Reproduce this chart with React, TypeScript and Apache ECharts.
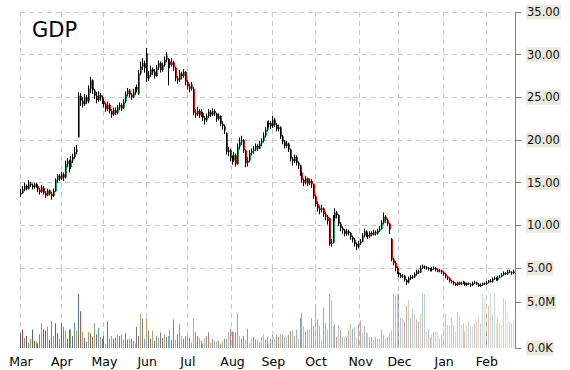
import React, { useEffect, useRef } from "react";
import * as echarts from "echarts";

// Daily candles per month: [open, close, low, high]
const months = ["Mar", "Apr", "May", "Jun", "Jul", "Aug", "Sep", "Oct", "Nov", "Dec", "Jan", "Feb"];

const candMar = [
  [13.6,13.8,13.3,14.3],[13.8,14.2,13.7,14.6],[14.2,14.6,14.0,15.0],[14.6,14.3,14.1,14.8],[14.3,14.9,14.2,15.3],
  [14.9,14.7,14.5,15.1],[14.7,14.5,14.2,14.9],[14.5,14.8,14.3,15.0],[14.8,14.6,14.4,15.0],[14.6,14.2,13.9,14.8],
  [14.2,13.9,13.6,14.4],[13.9,14.4,13.8,14.7],[14.4,13.8,13.6,14.6],[13.8,13.5,13.2,14.0],[13.5,14.1,13.4,14.3],
  [14.1,13.7,13.5,14.2],[13.7,13.4,13.0,13.9],[13.4,14.0,13.3,14.3],[14.0,15.3,13.9,15.5],[15.3,15.8,15.0,16.0],
  [15.8,15.5,15.2,16.0],
];
const candApr = [
  [15.5,16.0,15.3,16.3],[16.0,15.6,15.2,16.2],[15.6,17.2,15.5,17.6],[17.2,17.5,16.8,17.9],[17.5,16.8,16.2,17.7],
  [16.8,17.6,16.6,18.1],[17.6,18.0,17.3,18.4],[18.0,18.6,17.8,19.2],[18.6,18.9,18.3,19.4],[20.3,25.2,20.3,25.6],
  [25.2,24.6,24.0,25.5],[24.6,24.2,23.8,25.0],[24.2,25.0,24.0,25.4],[25.0,24.5,24.2,25.3],[24.5,26.0,24.3,26.4],
  [26.0,27.0,25.5,27.4],[27.0,25.8,25.4,27.1],[25.8,25.2,24.8,26.0],[25.2,24.7,24.3,25.6],[24.7,25.3,24.5,25.7],
  [25.3,25.0,24.6,25.5],[25.0,24.6,24.2,25.2],
];
const candMay = [
  [24.6,24.2,23.8,24.8],[24.2,23.6,23.3,24.4],[23.6,24.1,23.4,24.5],[24.1,23.4,23.1,24.3],[23.4,23.0,22.6,23.6],
  [23.0,23.5,22.8,23.8],[23.5,23.2,22.9,23.8],[23.2,23.8,23.0,24.1],[23.8,24.1,23.5,24.4],[24.1,23.7,23.4,24.3],
  [23.7,24.5,23.6,24.8],[24.5,25.4,24.3,25.7],[25.4,25.8,25.1,26.1],[25.8,25.3,25.0,26.0],[25.3,25.0,24.7,25.5],
  [25.0,25.6,24.9,26.0],[25.6,25.9,25.3,26.2],[25.9,26.2,25.6,26.5],[25.4,27.8,25.3,28.2],[27.8,28.6,27.6,29.2],
  [28.6,29.0,28.2,29.6],[29.0,28.4,27.9,29.3],
];
const candJun = [
  [30.2,27.2,26.8,30.8],[27.2,27.6,26.9,28.1],[27.6,28.3,27.4,28.7],[28.3,28.0,27.6,28.5],[28.0,27.5,27.2,28.3],
  [27.5,28.5,27.4,28.8],[28.5,29.0,28.2,29.3],[29.0,28.2,27.9,29.2],[28.2,28.8,28.0,29.1],[28.8,29.4,28.6,29.8],
  [29.4,29.9,29.1,30.3],[28.8,29.2,26.4,29.6],[29.2,28.8,28.4,29.5],[28.8,29.1,28.6,29.6],[29.1,28.5,28.1,29.3],
  [28.5,27.2,26.9,28.6],[27.2,27.0,26.6,27.5],[27.0,27.8,26.8,28.2],[27.8,27.5,27.1,28.0],[27.5,28.0,27.3,28.3],
  [28.0,26.8,26.4,28.1],
];
const candJul = [
  [26.8,26.3,25.9,27.0],[26.3,26.0,25.6,26.6],[26.0,26.5,25.8,26.8],[26.0,23.2,22.9,26.2],[23.2,23.0,22.6,23.6],
  [23.0,23.4,22.8,23.9],[23.4,22.9,22.6,23.6],[22.9,23.2,22.7,23.6],[23.2,22.6,22.2,23.3],[22.6,22.3,21.8,22.8],
  [22.3,22.8,22.1,23.1],[22.8,23.3,22.6,23.6],[23.3,23.0,22.7,23.5],[23.0,23.4,22.8,23.7],[23.4,23.1,22.8,23.6],
  [23.1,22.5,22.1,23.2],[22.5,22.8,22.3,23.1],[22.8,21.9,21.6,22.9],[21.9,21.6,21.2,22.2],[21.6,21.1,20.7,21.8],
  [20.8,18.6,18.3,20.9],[18.6,18.8,18.1,19.2],[18.8,17.9,17.5,19.0],
];
const candAug = [
  [17.9,17.6,17.1,18.2],[17.6,18.2,17.4,18.6],[18.2,17.2,16.9,18.4],[17.2,19.2,17.1,19.6],[19.2,19.8,18.9,20.3],
  [19.8,20.0,19.4,20.5],[20.0,18.8,18.5,20.1],[18.8,17.3,16.8,18.9],[17.3,17.6,16.9,18.0],[17.6,18.5,17.4,18.8],
  [18.5,18.7,18.2,19.0],[18.7,18.9,18.4,19.3],[18.9,19.3,18.7,19.6],[19.3,19.0,18.7,19.5],[19.0,19.6,18.9,19.9],
  [19.6,19.9,19.3,20.2],[19.9,20.5,19.7,20.9],[20.5,21.2,20.3,21.5],[21.2,21.8,21.0,22.2],[21.8,22.0,21.5,22.3],
  [22.0,21.6,21.3,22.2],
];
const candSep = [
  [21.6,22.4,21.4,22.8],[22.4,21.8,21.5,22.6],[21.8,21.3,21.0,22.0],[21.3,21.5,21.0,21.8],[21.5,20.4,20.1,21.6],
  [20.4,19.8,19.5,20.6],[19.8,19.3,19.0,20.0],[19.3,19.6,19.1,19.9],[19.6,18.9,18.6,19.7],[18.9,17.8,17.5,19.0],
  [17.8,17.5,17.0,18.0],[17.5,18.0,17.3,18.3],[18.0,17.3,17.0,18.2],[17.3,17.0,16.6,17.5],[17.0,16.2,15.8,17.1],
  [16.2,15.3,15.0,16.4],[15.3,15.0,14.6,15.5],[15.0,15.5,14.8,15.8],[15.5,14.9,14.6,15.6],[14.9,15.2,14.7,15.5],
  [15.2,14.8,14.4,15.4],[14.8,13.4,13.1,14.9],
];
const candOct = [
  [13.4,12.5,12.2,13.6],[12.5,12.0,11.6,12.8],[12.0,11.8,11.3,12.3],[11.8,12.0,11.5,12.4],[12.0,11.3,11.0,12.1],
  [11.3,11.0,10.6,11.6],[11.0,10.5,10.1,11.2],[10.8,7.8,7.6,10.9],[7.8,8.0,7.5,8.4],[8.0,10.8,7.9,11.2],
  [10.8,11.5,10.5,12.0],[11.5,11.2,10.8,11.7],[11.2,10.2,9.9,11.3],[10.2,9.7,9.3,10.4],[9.7,9.4,9.0,9.9],
  [9.4,9.0,8.7,9.6],[9.0,9.3,8.8,9.6],[9.3,9.1,8.8,9.5],[9.1,8.6,8.3,9.2],[8.6,8.3,8.0,8.8],
  [8.3,7.8,7.5,8.5],[7.8,7.5,7.1,8.0],[7.5,7.9,7.3,8.2],
];
const candNov = [
  [7.9,8.1,7.7,8.4],[8.1,8.8,8.0,9.1],[8.8,9.3,8.6,9.6],[9.3,8.9,8.6,9.4],[8.9,8.7,8.4,9.1],
  [8.7,9.1,8.5,9.3],[9.1,8.9,8.7,9.3],[8.9,9.2,8.8,9.5],[9.2,9.0,8.8,9.4],[9.0,9.4,8.9,9.6],
  [9.4,9.6,9.2,9.9],[9.6,10.3,9.5,10.6],[10.3,11.0,10.1,11.5],[11.0,10.6,10.3,11.2],[10.6,10.2,9.9,10.8],
  [10.2,9.5,9.0,10.3],[8.4,6.0,5.8,8.5],[6.0,5.6,5.3,6.2],[5.6,5.0,4.6,5.8],[5.0,4.5,4.3,5.2],
];
const candDec = [
  [4.5,4.2,3.9,4.6],[4.2,4.0,3.8,4.4],[4.0,4.1,3.8,4.3],[4.1,3.6,3.4,4.2],[3.6,3.3,3.0,3.7],
  [3.3,3.8,3.2,4.0],[3.8,4.0,3.6,4.2],[4.0,3.9,3.7,4.2],[3.9,4.3,3.8,4.5],[4.3,4.6,4.1,4.8],
  [4.6,4.5,4.3,4.8],[4.5,5.0,4.4,5.3],[5.0,5.2,4.9,5.4],[5.2,5.1,4.9,5.3],[5.1,5.0,4.8,5.2],
  [5.0,4.9,4.7,5.1],[4.9,4.7,4.6,5.0],[4.7,4.9,4.6,5.1],[4.9,5.0,4.8,5.2],[5.0,4.8,4.6,5.1],
  [4.8,4.6,4.5,4.9],[4.6,4.7,4.5,4.9],[4.7,4.5,4.3,4.8],
];
const candJan = [
  [4.5,4.3,4.1,4.6],[4.3,4.0,3.8,4.4],[4.0,3.8,3.6,4.1],[3.8,3.5,3.3,3.9],[3.5,3.4,3.2,3.6],
  [3.4,3.2,3.0,3.5],[3.2,3.0,2.9,3.3],[3.0,3.3,2.9,3.4],[3.3,3.1,3.0,3.4],[3.1,3.2,3.0,3.4],
  [3.2,3.3,3.1,3.5],[3.3,3.0,2.9,3.4],[3.0,3.2,2.9,3.3],[3.2,3.1,3.0,3.3],[3.1,3.0,2.8,3.2],
  [3.0,3.2,2.9,3.4],[3.2,3.3,3.1,3.5],[3.3,3.1,3.0,3.4],[3.1,2.9,2.8,3.2],[2.9,3.0,2.8,3.2],
  [3.0,3.2,2.9,3.3],[3.2,3.1,3.0,3.3],
];
const candFeb = [
  [3.1,3.3,3.0,3.5],[3.3,3.5,3.2,3.6],[3.5,3.4,3.3,3.7],[3.4,3.7,3.3,3.9],[3.7,3.8,3.6,4.0],
  [3.8,3.6,3.5,3.9],[3.6,3.9,3.5,4.1],[3.9,4.0,3.8,4.2],[4.0,4.2,3.9,4.4],[4.2,4.4,4.1,4.6],
  [4.4,4.3,4.2,4.5],[4.3,4.6,4.2,4.8],[4.6,4.5,4.4,4.8],[4.5,4.4,4.2,4.6],[4.4,4.6,4.3,4.8],
];

// Daily volume per month, in millions
const volMar = [1.6,2.0,1.1,1.3,0.6,1.0,2.0,0.8,0.7,0.5,1.5,2.7,2.0,1.9,2.3,0.9,2.9,1.3,2.7,1.6,1.0];
const volApr = [2.7,2.3,1.9,1.0,2.0,2.0,1.3,2.7,1.9,5.9,4.0,1.8,1.1,0.7,1.7,1.6,1.2,2.7,1.5,2.2,1.2,1.0];
const volMay = [1.3,0.4,2.9,1.0,1.3,1.0,1.1,1.4,1.3,1.4,0.9,1.6,0.9,1.0,1.0,0.8,0.5,2.3,1.3,3.7,3.2,1.0];
const volJun = [3.2,1.9,1.0,1.9,0.8,1.3,1.1,1.7,1.1,1.5,1.2,1.3,2.0,0.9,3.1,0.9,1.5,2.6,1.3,1.0,1.3];
const volJul = [1.3,1.1,0.6,3.2,1.7,1.3,1.1,0.8,0.5,1.1,1.3,1.7,0.6,1.0,0.8,0.7,0.8,0.5,0.8,1.0,1.0,1.7,2.1];
const volAug = [1.8,1.7,1.7,3.8,1.3,1.0,1.3,0.9,2.1,0.5,1.0,1.2,0.9,0.9,0.6,1.2,1.5,0.9,1.2,0.5,1.0];
const volSep = [1.4,1.0,1.4,1.2,1.5,1.4,1.2,1.2,1.4,1.8,1.9,1.3,2.0,1.0,3.3,3.8,2.4,1.8,2.0,2.0,3.2,2.4];
const volOct = [4.7,3.1,2.4,0.9,4.4,2.7,2.0,5.9,5.2,2.4,2.6,1.2,2.4,2.0,1.2,1.2,1.2,1.9,2.6,2.1,2.3,1.1,2.6];
const volNov = [3.0,1.7,2.4,1.7,1.6,1.2,1.2,0.9,1.2,1.0,1.1,2.0,1.4,1.0,1.2,1.5,2.0,5.9,5.7,5.9];
const volDec = [5.9,3.3,3.2,2.9,4.6,5.2,3.3,4.3,3.7,3.1,2.9,3.7,5.9,5.9,1.8,2.0,1.2,1.4,1.8,1.8,1.8,1.0,1.4];
const volJan = [2.2,3.7,2.5,2.5,3.3,2.5,1.8,3.9,3.5,2.5,2.7,1.8,2.5,2.9,2.5,2.4,2.7,2.9,3.5,2.7,5.9,5.4];
const volFeb = [3.7,4.6,5.9,3.7,5.9,2.7,3.3,2.7,2.5,5.4,5.2,3.9,2.9,2.7,3.1];

const priceTicks = [5, 10, 15, 20, 25, 30, 35];
const volumeTicks = [0, 5];
const volumePalette = ["#3a679e", "#b33c37", "#82a340", "#6a508f", "#3496b3", "#e57f27"];

const candleMonths = [candMar, candApr, candMay, candJun, candJul, candAug, candSep, candOct, candNov, candDec, candJan, candFeb];
const volumeMonths = [volMar, volApr, volMay, volJun, volJul, volAug, volSep, volOct, volNov, volDec, volJan, volFeb];

export default function App() {
  const ref = useRef<HTMLDivElement>(null);
  useEffect(() => {
    if (!ref.current) return;
    const chart = echarts.init(ref.current, null, { renderer: "svg" });

    const categories: string[] = [];
    const monthStart = new Set<number>();
    const candleRows: number[][] = [];
    const volumeRows: number[][] = [];
    candleMonths.forEach((arr, m) => {
      monthStart.add(categories.length);
      arr.forEach((c, d) => {
        const idx = categories.length;
        categories.push(months[m] + " " + (d + 1));
        candleRows.push([idx, c[0], c[1], c[2], c[3]]);
        volumeRows.push([idx, volumeMonths[m][d]]);
      });
    });
    const n = categories.length;

    const font = "DejaVu Sans";
    const split = { show: true, interval: (i: number) => monthStart.has(i), lineStyle: { color: "#c8c8c8", type: [5, 4] as any, width: 1 } };

    chart.setOption({
      animation: false,
      title: {
        text: "GDP",
        left: 27,
        top: 14,
        textStyle: { fontFamily: font, fontSize: 21, fontWeight: "normal", color: "#000" },
      },
      grid: [
        { left: 20, right: 55, top: 12, height: 256 },
        { left: 20, right: 55, top: 268, bottom: 22 },
      ],
      xAxis: [
        {
          type: "category",
          gridIndex: 0,
          data: categories,
          boundaryGap: true,
          axisLine: { show: false },
          axisTick: { show: false },
          axisLabel: { show: false },
          splitLine: split,
        },
        {
          type: "category",
          gridIndex: 1,
          data: categories,
          boundaryGap: true,
          axisLine: { show: false },
          axisTick: { show: false },
          axisLabel: {
            show: true,
            interval: (i: number) => monthStart.has(i),
            formatter: (v: string) => v.split(" ")[0],
            fontFamily: font,
            fontSize: 12.5,
            color: "#000",
            margin: 7,
          },
          splitLine: split,
        },
      ],
      yAxis: [
        {
          type: "value",
          gridIndex: 0,
          position: "right",
          min: 5,
          max: 35,
          interval: 5,
          axisLine: { show: true, lineStyle: { color: "#808080" } },
          axisTick: { show: true, length: 6, lineStyle: { color: "#808080" }, customValues: priceTicks },
          axisLabel: {
            customValues: priceTicks,
            formatter: (v: number) => v.toFixed(2),
            fontFamily: font,
            fontSize: 11.5,
            color: "#111",
            margin: 11,
            backgroundColor: "#ece9df",
            padding: [2, 1, 1, 1],
          },
          splitLine: { show: true, lineStyle: { color: "#c8c8c8", type: [5, 4] } },
        },
        {
          type: "value",
          gridIndex: 1,
          position: "right",
          min: 0,
          max: 8.696,
          axisLine: { show: true, lineStyle: { color: "#808080" } },
          axisTick: { show: true, length: 6, lineStyle: { color: "#808080" }, customValues: volumeTicks },
          axisLabel: {
            customValues: volumeTicks,
            formatter: (v: number) => (v === 0 ? "0.0K" : v.toFixed(1) + "M"),
            fontFamily: font,
            fontSize: 11.5,
            color: "#111",
            margin: 11,
            backgroundColor: "#ece9df",
            padding: [2, 1, 1, 1],
          },
          splitLine: { show: false },
        },
      ],
      series: [
        {
          type: "custom",
          xAxisIndex: 1,
          yAxisIndex: 1,
          encode: { x: 0, y: 1 },
          data: volumeRows,
          renderItem: (params: any, api: any) => {
            const i = api.value(0);
            const v = api.value(1);
            const pT = api.coord([i, v]);
            const pB = api.coord([i, 0]);
            const x = Math.round(pT[0]);
            return {
              type: "rect",
              shape: { x: x - 1, y: pT[1], width: 1, height: pB[1] - pT[1] },
              style: {
                fill: volumePalette[i % volumePalette.length],
                opacity: 1 - (0.72 * i) / (n - 1),
              },
            };
          },
        },
        {
          type: "custom",
          xAxisIndex: 0,
          yAxisIndex: 0,
          encode: { x: 0, y: [1, 2, 3, 4] },
          data: candleRows,
          renderItem: (params: any, api: any) => {
            const i = api.value(0);
            const o = api.value(1);
            const c = api.value(2);
            const l = api.value(3);
            const h = api.value(4);
            const pO = api.coord([i, o]);
            const pC = api.coord([i, c]);
            const pL = api.coord([i, l]);
            const pH = api.coord([i, h]);
            const x = Math.round(pO[0]);
            const top = Math.min(pO[1], pC[1]);
            const ht = Math.max(1, Math.abs(pO[1] - pC[1]));
            return {
              type: "group",
              children: [
                {
                  type: "line",
                  shape: { x1: x - 0.5, y1: pH[1], x2: x - 0.5, y2: pL[1] },
                  style: { stroke: "#000", lineWidth: 1 },
                },
                {
                  type: "rect",
                  shape: { x: x, y: top, width: 1, height: ht },
                  style: { fill: c >= o ? "#0aa35a" : "#ff0000" },
                },
              ],
            };
          },
        },
      ],
    });
    return () => chart.dispose();
  }, []);
  return <div ref={ref} style={{ position: "absolute", left: 0, top: 0, width: 570, height: 370 }} />;
}
